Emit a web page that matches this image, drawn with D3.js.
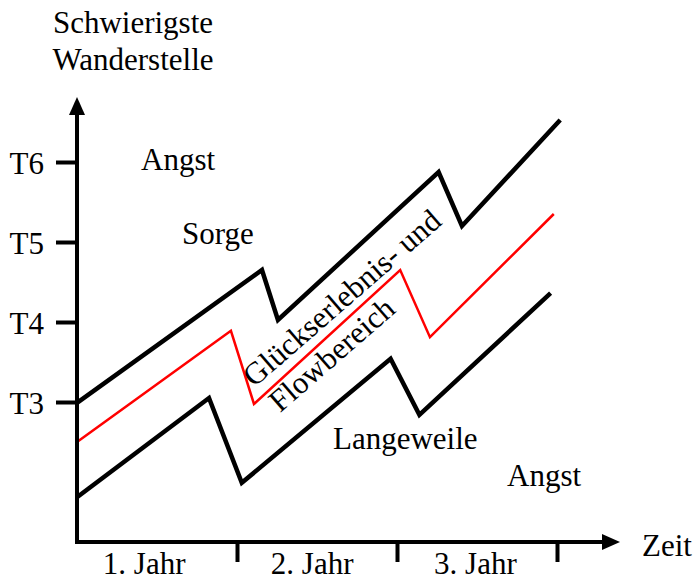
<!DOCTYPE html>
<html lang="de">
<head>
    <meta charset="UTF-8">
    <title>Flowbereich</title>
    <script src="https://d3js.org/d3.v7.min.js"></script>
    <style>
        body { margin: 0; background: #fff; }
        text { font-family: "Liberation Serif", "Times New Roman", serif; fill: #000; }
    </style>
</head>
<body>
<div id="chart"></div>
<script>
    // data: x in years, y in difficulty grade (T3 = 3 ...)
    const upperX = [0, 1.156, 1.256, 2.26, 2.406, 3.02];
    const upperY = [2.99, 4.65, 4.025, 5.875, 5.2, 6.525];
    const flowX = [0, 0.962, 1.106, 2.02, 2.206, 2.98];
    const flowY = [2.5, 3.89, 2.975, 4.65, 3.81, 5.35];
    const lowerX = [0, 0.825, 1.03, 1.96, 2.14, 2.96];
    const lowerY = [1.81, 3.05, 1.99, 3.54, 2.84, 4.36];

    const yTicks = [3, 4, 5, 6];
    const yTickLabels = ["T3", "T4", "T5", "T6"];
    const xTicks = [1, 2, 3];
    const yearLabels = ["1. Jahr", "2. Jahr", "3. Jahr"];

    const width = 695, height = 581;
    const fontSize = 31;

    const svg = d3.select("#chart").append("svg")
        .attr("width", width)
        .attr("height", height);

    const x = d3.scaleLinear().domain([0, 3]).range([77, 557]);
    const y = d3.scaleLinear().domain([1.25, 7]).range([542, 82]);

    const line = d3.line()
        .x(d => x(d[0]))
        .y(d => y(d[1]));

    const zip = (a, b) => a.map((v, i) => [v, b[i]]);

    // band lines
    svg.append("path")
        .datum(zip(lowerX, lowerY))
        .attr("d", line)
        .attr("fill", "none").attr("stroke", "#000").attr("stroke-width", 4.5)
        .attr("stroke-linejoin", "miter");
    svg.append("path")
        .datum(zip(upperX, upperY))
        .attr("d", line)
        .attr("fill", "none").attr("stroke", "#000").attr("stroke-width", 4.5)
        .attr("stroke-linejoin", "miter");
    svg.append("path")
        .datum(zip(flowX, flowY))
        .attr("d", line)
        .attr("fill", "none").attr("stroke", "#ff0000").attr("stroke-width", 2.5)
        .attr("stroke-linejoin", "miter");

    // axes lines with arrows
    const x0 = x(0), y0 = y.range()[0];
    const yTip = 97, xTip = 620;
    svg.append("line")
        .attr("x1", x0).attr("y1", y0 + 2).attr("x2", x0).attr("y2", yTip + 10)
        .attr("stroke", "#000").attr("stroke-width", 4);
    svg.append("line")
        .attr("x1", x0 - 2).attr("y1", y0).attr("x2", xTip - 10).attr("y2", y0)
        .attr("stroke", "#000").attr("stroke-width", 4);
    svg.append("path")
        .attr("d", `M${x0},${yTip} L${x0 - 8},${yTip + 18} L${x0 + 8},${yTip + 18} Z`)
        .attr("fill", "#000");
    svg.append("path")
        .attr("d", `M${xTip},${y0} L${xTip - 18},${y0 - 8} L${xTip - 18},${y0 + 8} Z`)
        .attr("fill", "#000");

    // y ticks
    const yAxis = svg.append("g")
        .attr("transform", `translate(${x0},0)`)
        .call(d3.axisLeft(y).tickValues(yTicks)
            .tickFormat((d, i) => yTickLabels[i])
            .tickSize(21).tickPadding(12));
    yAxis.select(".domain").remove();
    yAxis.selectAll(".tick line").attr("stroke", "#000").attr("stroke-width", 4);
    yAxis.selectAll(".tick text")
        .attr("font-family", null)
        .style("font-size", fontSize + "px")
        .attr("dy", "0.36em");

    // x ticks
    const xAxis = svg.append("g")
        .attr("transform", `translate(0,${y0})`)
        .call(d3.axisBottom(x).tickValues(xTicks).tickFormat("").tickSize(20));
    xAxis.select(".domain").remove();
    xAxis.selectAll(".tick line").attr("stroke", "#000").attr("stroke-width", 4);

    // year labels
    const yearPos = [0.42, 1.47, 2.49];
    svg.selectAll(".year")
        .data(yearLabels)
        .enter().append("text")
        .attr("class", "year")
        .attr("x", (d, i) => x(yearPos[i]))
        .attr("y", 574)
        .attr("text-anchor", "middle")
        .style("font-size", fontSize + "px")
        .text(d => d);

    // axis titles
    svg.append("text").attr("x", 133).attr("y", 33).attr("text-anchor", "middle")
        .style("font-size", fontSize + "px").text("Schwierigste");
    svg.append("text").attr("x", 133).attr("y", 70).attr("text-anchor", "middle")
        .style("font-size", fontSize + "px").text("Wanderstelle");
    svg.append("text").attr("x", 642).attr("y", 556)
        .style("font-size", fontSize + "px").text("Zeit");

    // region labels
    const regions = [
        { t: "Angst", px: 141, py: 170 },
        { t: "Sorge", px: 182, py: 244 },
        { t: "Langeweile", px: 333, py: 449 },
        { t: "Angst", px: 507, py: 486 }
    ];
    svg.selectAll(".region")
        .data(regions)
        .enter().append("text")
        .attr("class", "region")
        .attr("x", d => d.px)
        .attr("y", d => d.py)
        .style("font-size", fontSize + "px")
        .text(d => d.t);

    // rotated flow label
    const flow = svg.append("text")
        .attr("transform", "translate(254,388) rotate(-41)")
        .style("font-size", fontSize + "px");
    flow.append("tspan").attr("x", 0).attr("y", 0).text("Glückserlebnis- und");
    flow.append("tspan").attr("x", 3).attr("y", 36).text("Flowbereich");
</script>
</body>
</html>
